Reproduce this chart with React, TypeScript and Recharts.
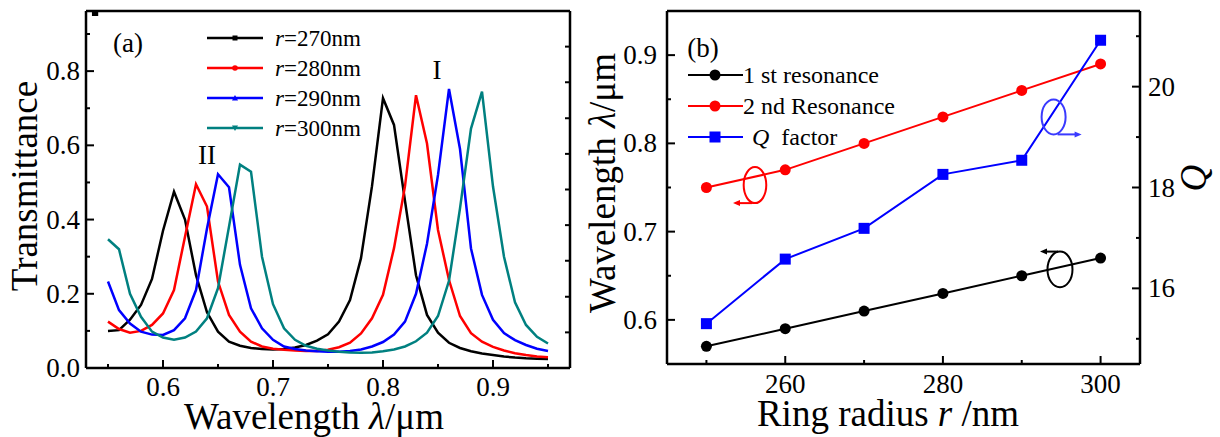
import React from 'react';
import { LineChart, Line, XAxis, YAxis, Legend, ReferenceDot, Label } from 'recharts';

const FONT = '"Liberation Serif", "Times New Roman", serif';

// ---------- Panel (a): transmittance spectra ----------
const wavelengths = [
  0.55, 0.56, 0.57, 0.58, 0.59, 0.6, 0.61, 0.62, 0.63, 0.64,
  0.65, 0.66, 0.67, 0.68, 0.69, 0.7, 0.71, 0.72, 0.73, 0.74,
  0.75, 0.76, 0.77, 0.78, 0.79, 0.8, 0.81, 0.82, 0.83, 0.84,
  0.85, 0.86, 0.87, 0.88, 0.89, 0.9, 0.91, 0.92, 0.93, 0.94, 0.95,
];
const t270 = [
  0.1, 0.102, 0.13, 0.17, 0.24, 0.37, 0.475, 0.4, 0.25, 0.15,
  0.098, 0.071, 0.06, 0.054, 0.051, 0.05, 0.051, 0.055, 0.062, 0.074,
  0.091, 0.125, 0.183, 0.296, 0.49, 0.727, 0.655, 0.45, 0.25, 0.143,
  0.095, 0.068, 0.054, 0.045, 0.039, 0.035, 0.031, 0.028, 0.026, 0.025, 0.024,
];
const t280 = [
  0.125, 0.105, 0.095, 0.1, 0.116, 0.147, 0.21, 0.354, 0.495, 0.435,
  0.233, 0.143, 0.098, 0.071, 0.058, 0.052, 0.049, 0.047, 0.046, 0.046,
  0.049, 0.056, 0.068, 0.093, 0.134, 0.197, 0.323, 0.49, 0.735, 0.605,
  0.372, 0.237, 0.14, 0.094, 0.071, 0.057, 0.047, 0.04, 0.035, 0.031, 0.029,
];
const t290 = [
  0.233, 0.156, 0.12, 0.098, 0.09, 0.089, 0.102, 0.134, 0.21, 0.376,
  0.522, 0.487, 0.278, 0.161, 0.107, 0.076, 0.058, 0.051, 0.047, 0.045,
  0.044, 0.044, 0.046, 0.05, 0.058, 0.07, 0.09, 0.125, 0.2, 0.335,
  0.52, 0.752, 0.59, 0.322, 0.197, 0.13, 0.094, 0.075, 0.062, 0.052, 0.046,
];
const t300 = [
  0.347, 0.32, 0.2, 0.138, 0.098, 0.082, 0.076, 0.082, 0.098, 0.134,
  0.215, 0.381, 0.548, 0.529, 0.3, 0.172, 0.107, 0.076, 0.06, 0.052,
  0.047, 0.044, 0.042, 0.041, 0.042, 0.045, 0.05, 0.058, 0.072, 0.095,
  0.14, 0.235, 0.43, 0.645, 0.745, 0.489, 0.3, 0.177, 0.116, 0.084, 0.066,
];
const aXTicks = [0.55, 0.6, 0.65, 0.7, 0.75, 0.8, 0.85, 0.9, 0.95];
const aXMajors = [0.6, 0.7, 0.8, 0.9];
const aYTicks = [0, 0.1, 0.2, 0.3, 0.4, 0.5, 0.6, 0.7, 0.8, 0.9];
const aYMajors = [0, 0.2, 0.4, 0.6, 0.8];
const aTopTicks = [0.574, 0.618, 0.662, 0.706, 0.75, 0.794, 0.838, 0.882, 0.926];
const aRightTicks = [0.096, 0.192, 0.289, 0.385, 0.481, 0.577, 0.673, 0.77, 0.866];

// ---------- Panel (b): resonance vs ring radius ----------
const radii = [250, 260, 270, 280, 290, 300];
const firstRes = [0.57, 0.59, 0.61, 0.63, 0.65, 0.67];
const secondRes = [0.75, 0.77, 0.8, 0.83, 0.86, 0.89];
const qFactor = [15.3, 16.58, 17.19, 18.26, 18.54, 20.92];
const bXTicks = [250, 260, 270, 280, 290, 300];
const bXMajors = [260, 280, 300];
const bYTicks = [0.6, 0.65, 0.7, 0.75, 0.8, 0.85, 0.9];
const bYMajors = [0.6, 0.7, 0.8, 0.9];
const bQTicks = [15, 16, 17, 18, 19, 20, 21];
const bQMajors = [16, 18, 20];

const dataA = wavelengths.map((x, i) => ({ x, r270: t270[i], r280: t280[i], r290: t290[i], r300: t300[i] }));
const dataB = radii.map((r, i) => ({ r, first: firstRes[i], second: secondRes[i], q: qFactor[i] }));

const axisStyle = { stroke: '#000', strokeWidth: 2.5 };

type Side = 'bottom' | 'top' | 'left' | 'right';
function makeTick(side: Side, majors: number[], majorLen: number, minorLen: number, fmt?: (v: number) => string, gap = 0) {
  return function TickItem(props: any) {
    const { x, y, payload } = props;
    const v = Number(payload.value);
    const isMaj = majors.some((m) => Math.abs(m - v) < 1e-9);
    const len = isMaj ? majorLen : minorLen;
    let l = [x, y, x, y];
    let label: any = null;
    const tp = { fontFamily: FONT, fontSize: 27, fill: '#000' };
    if (side === 'bottom') {
      l = [x, y, x, y - len];
      if (isMaj && fmt) label = <text x={x} y={y + gap} textAnchor="middle" {...tp}>{fmt(v)}</text>;
    } else if (side === 'top') {
      l = [x, y, x, y + len];
    } else if (side === 'left') {
      l = [x, y, x + len, y];
      if (isMaj && fmt) label = <text x={x - gap} y={y + 9} textAnchor="end" {...tp}>{fmt(v)}</text>;
    } else {
      l = [x, y, x - len, y];
      if (isMaj && fmt) label = <text x={x + gap} y={y + 9} textAnchor="start" {...tp}>{fmt(v)}</text>;
    }
    return (
      <g>
        <line x1={l[0]} y1={l[1]} x2={l[2]} y2={l[3]} stroke="#000" strokeWidth={2} />
        {label}
      </g>
    );
  };
}

const f1 = (v: number) => v.toFixed(1);
const f0 = (v: number) => String(v);

const TickABottom = makeTick('bottom', aXMajors, 8, 4, f1, 28);
const TickALeft = makeTick('left', aYMajors, 8, 4, f1, 6);
const TickATop = makeTick('top', aTopTicks, 5, 5);
const TickARight = makeTick('right', aRightTicks, 5, 5);

const TickBBottom = makeTick('bottom', bXMajors, 8, 4, f0, 29);
const TickBTop = makeTick('top', bXMajors, 8, 4);
const TickBLeft = makeTick('left', bYMajors, 8, 4, f1, 10);
const TickBRight = makeTick('right', bQMajors, 8, 4, f0, 8);

const titleProps = { fontFamily: FONT, fontSize: 37, fill: '#000' };

const markerFor = (key: string, cx: number, cy: number, color: string) => {
  if (key === 'r270') return <rect x={cx - 2.5} y={cy - 2.5} width={5} height={5} fill={color} />;
  if (key === 'r280') return <circle cx={cx} cy={cy} r={2.8} fill={color} />;
  if (key === 'r290') return <polygon points={`${cx},${cy - 3} ${cx - 3},${cy + 2.5} ${cx + 3},${cy + 2.5}`} fill={color} />;
  return <polygon points={`${cx},${cy + 3} ${cx - 3},${cy - 2.5} ${cx + 3},${cy - 2.5}`} fill={color} />;
};

const LegendA = (props: any) => {
  const items = props.payload || [];
  return (
    <svg width={200} height={130} style={{ display: 'block', overflow: 'visible' }}>
      {items.map((it: any, i: number) => {
        const cy = 18 + i * 30;
        const name = String(it.value);
        return (
          <g key={i}>
            <line x1={7} x2={63} y1={cy} y2={cy} stroke={it.color} strokeWidth={2.5} />
            {markerFor(String(it.dataKey), 35, cy, it.color)}
            <text x={75} y={cy + 8} fontFamily={FONT} fontSize={23} fill="#000">
              <tspan fontStyle="italic">{name.slice(0, 1)}</tspan>
              {name.slice(1)}
            </text>
          </g>
        );
      })}
    </svg>
  );
};

const LegendB = (props: any) => {
  const items = props.payload || [];
  return (
    <svg width={200} height={100} style={{ display: 'block', overflow: 'visible' }}>
      {items.map((it: any, i: number) => {
        const cy = 20 + i * 31;
        const name = String(it.value);
        const isQ = it.dataKey === 'q';
        return (
          <g key={i}>
            <line x1={8} x2={63} y1={cy} y2={cy} stroke={it.color} strokeWidth={2} />
            {isQ ? (
              <rect x={35 - 5.5} y={cy - 5.5} width={11} height={11} fill={it.color} />
            ) : (
              <circle cx={35} cy={cy} r={5.5} fill={it.color} />
            )}
            {isQ ? (
              <text x={72} y={cy + 8} fontFamily={FONT} fontSize={24} fill="#000">
                <tspan fontStyle="italic">Q</tspan>
                <tspan dx={12}>{name.replace('Q', '').trim()}</tspan>
              </text>
            ) : (
              <text x={63} y={cy + 8} fontFamily={FONT} fontSize={24} fill="#000">{name}</text>
            )}
          </g>
        );
      })}
    </svg>
  );
};

const textShape = (txt: string) => (p: any) => (
  <text x={p.cx} y={p.cy} dy="0.35em" textAnchor="middle" fontFamily={FONT} fontSize={27} fill="#000">{txt}</text>
);

const ellipseShape = (color: string, rx: number, ry: number, ax1: number, ax2: number, ay: number) => (p: any) => {
  const { cx, cy } = p;
  const y = cy + ay;
  const x1 = cx + ax1;
  const x2 = cx + ax2;
  const dir = x2 > x1 ? 1 : -1;
  return (
    <g>
      <ellipse cx={cx} cy={cy} rx={rx} ry={ry} fill="none" stroke={color} strokeWidth={2} />
      <line x1={x1} y1={y} x2={x2 - dir * 4} y2={y} stroke={color} strokeWidth={2} />
      <polygon points={`${x2},${y} ${x2 - dir * 7},${y - 3} ${x2 - dir * 7},${y + 3}`} fill={color} />
    </g>
  );
};

export default function App() {
  return (
    <div style={{ position: 'absolute', left: 0, top: 0, width: 1220, height: 437, background: '#fff' }}>
      <div style={{ position: 'absolute', left: 0, top: 0 }}>
        <LineChart width={600} height={437} data={dataA} margin={{ top: 10, right: 29, bottom: 19, left: 26 }}>
          <XAxis xAxisId="x" dataKey="x" type="number" domain={[0.53, 0.97]} allowDataOverflow ticks={aXTicks}
            interval={0} tickLine={false} tickSize={0} tickMargin={0} tick={TickABottom} axisLine={axisStyle} height={50}>
            <Label content={() => (
              <text x={314} y={429} textAnchor="middle" {...titleProps}>
                Wavelength <tspan fontStyle="italic">λ</tspan>/μm
              </text>
            )} />
          </XAxis>
          <XAxis xAxisId="top" orientation="top" type="number" domain={[0.53, 0.97]} allowDataOverflow ticks={aTopTicks}
            interval={0} tickLine={false} tickSize={0} tickMargin={0} tick={TickATop} axisLine={axisStyle} height={1} />
          <YAxis yAxisId="y" type="number" domain={[0, 0.962]} allowDataOverflow ticks={aYTicks} interval={0}
            tickLine={false} tickSize={0} tickMargin={0} tick={TickALeft} axisLine={axisStyle} width={60}>
            <Label content={() => (
              <text x={37} y={186} textAnchor="middle" transform="rotate(-90 37 186)" {...titleProps}>Transmittance</text>
            )} />
          </YAxis>
          <YAxis yAxisId="yr" orientation="right" type="number" domain={[0, 0.962]} allowDataOverflow ticks={aRightTicks}
            interval={0} tickLine={false} tickSize={0} tickMargin={0} tick={TickARight} axisLine={axisStyle} width={1} />
          <Legend layout="horizontal" verticalAlign="middle" align="center" content={LegendA}
            wrapperStyle={{ left: 200, top: 20, width: 200, height: 130 }} />
          <Line xAxisId="x" yAxisId="y" type="linear" dataKey="r270" name="r=270nm" stroke="#000000" strokeWidth={2.5} dot={false} isAnimationActive={false} />
          <Line xAxisId="x" yAxisId="y" type="linear" dataKey="r280" name="r=280nm" stroke="#ff0000" strokeWidth={2.5} dot={false} isAnimationActive={false} />
          <Line xAxisId="x" yAxisId="y" type="linear" dataKey="r290" name="r=290nm" stroke="#0000ff" strokeWidth={2.5} dot={false} isAnimationActive={false} />
          <Line xAxisId="x" yAxisId="y" type="linear" dataKey="r300" name="r=300nm" stroke="#008080" strokeWidth={2.5} dot={false} isAnimationActive={false} />
          <ReferenceDot xAxisId="x" yAxisId="y" x={0.5682} y={0.876} shape={textShape('(a)')} />
          <ReferenceDot xAxisId="x" yAxisId="y" x={0.64} y={0.574} shape={textShape('II')} />
          <ReferenceDot xAxisId="x" yAxisId="y" x={0.849} y={0.803} shape={textShape('I')} />
        </LineChart>
      </div>
      <div style={{ position: 'absolute', left: 570, top: 0 }}>
        <LineChart width={650} height={437} data={dataB} margin={{ top: 10, right: 20, bottom: 23, left: 37 }}>
          <XAxis xAxisId="x" dataKey="r" type="number" domain={[245, 305]} allowDataOverflow ticks={bXTicks}
            interval={0} tickLine={false} tickSize={0} tickMargin={0} tick={TickBBottom} axisLine={axisStyle} height={50}>
            <Label content={() => (
              <text x={318} y={426} textAnchor="middle" {...titleProps}>
                Ring radius <tspan fontStyle="italic">r</tspan> /nm
              </text>
            )} />
          </XAxis>
          <XAxis xAxisId="top" orientation="top" type="number" domain={[245, 305]} allowDataOverflow ticks={bXTicks}
            interval={0} tickLine={false} tickSize={0} tickMargin={0} tick={TickBTop} axisLine={axisStyle} height={1} />
          <YAxis yAxisId="L" type="number" domain={[0.55, 0.95]} allowDataOverflow ticks={bYTicks} interval={0}
            tickLine={false} tickSize={0} tickMargin={0} tick={TickBLeft} axisLine={axisStyle} width={60}>
            <Label content={() => (
              <text x={45} y={183} textAnchor="middle" transform="rotate(-90 45 183)" {...titleProps}>
                Wavelength <tspan fontStyle="italic">λ</tspan>/μm
              </text>
            )} />
          </YAxis>
          <YAxis yAxisId="R" orientation="right" type="number" domain={[14.5, 21.5]} allowDataOverflow ticks={bQTicks}
            interval={0} tickLine={false} tickSize={0} tickMargin={0} tick={TickBRight} axisLine={axisStyle} width={60}>
            <Label content={() => (
              <text x={636} y={178} textAnchor="middle" transform="rotate(-90 636 178)" fontStyle="italic" {...titleProps}>Q</text>
            )} />
          </YAxis>
          <Legend layout="horizontal" verticalAlign="middle" align="center" content={LegendB}
            wrapperStyle={{ left: 110, top: 55, width: 200, height: 100 }} />
          <Line xAxisId="x" yAxisId="L" type="linear" dataKey="first" name="1 st resonance" stroke="#000000" strokeWidth={2}
            dot={{ r: 5.5, fill: '#000000', stroke: '#000000', strokeWidth: 0 }} isAnimationActive={false} />
          <Line xAxisId="x" yAxisId="L" type="linear" dataKey="second" name="2 nd Resonance" stroke="#ff0000" strokeWidth={2}
            dot={{ r: 5.5, fill: '#ff0000', stroke: '#ff0000', strokeWidth: 0 }} isAnimationActive={false} />
          <Line xAxisId="x" yAxisId="R" type="linear" dataKey="q" name="Q factor" stroke="#0000ff" strokeWidth={2}
            dot={(p: any) => <rect key={`q-${p.index}`} x={p.cx - 5.5} y={p.cy - 5.5} width={11} height={11} fill="#0000ff" />}
            isAnimationActive={false} />
          <ReferenceDot xAxisId="x" yAxisId="L" x={249.57} y={0.909} shape={textShape('(b)')} />
          <ReferenceDot xAxisId="x" yAxisId="L" x={256.16} y={0.7527} shape={ellipseShape('#ff0000', 11.3, 18, -3, -22, 18)} />
          <ReferenceDot xAxisId="x" yAxisId="L" x={294.04} y={0.83} shape={ellipseShape('#3a3aff', 12, 17.5, 4, 28, 17.5)} />
          <ReferenceDot xAxisId="x" yAxisId="L" x={294.85} y={0.6572} shape={ellipseShape('#000000', 12.5, 17.8, -2, -20, -17.8)} />
        </LineChart>
      </div>
    </div>
  );
}
